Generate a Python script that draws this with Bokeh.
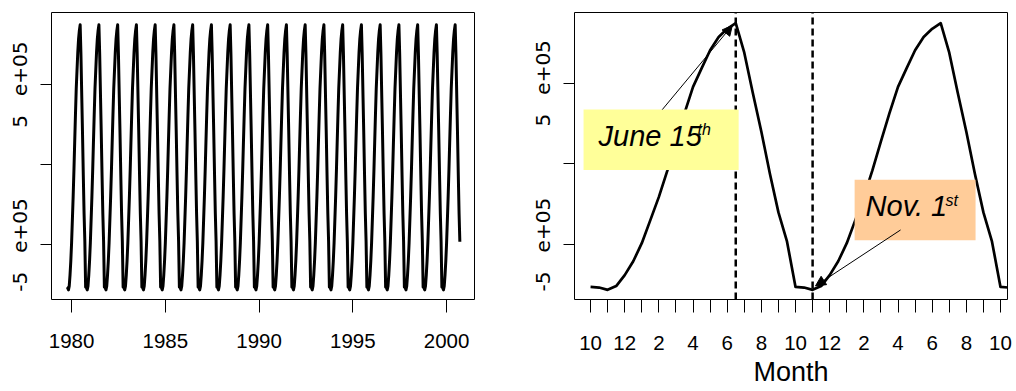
import numpy as np
from bokeh.plotting import figure
from bokeh.layouts import row
from bokeh.models import Range1d, FixedTicker, Arrow, NormalHead
from bokeh.core.properties import value
from bokeh.embed import file_html
from bokeh.resources import INLINE

# ---- data -------------------------------------------------------------
# half-monthly annual cycle, starting on October 1st (months since Oct 1)
cycle_months = [0.0, 0.5, 1.0, 1.5, 2.0, 2.5, 3.0, 3.5, 4.0, 4.5, 5.0, 5.5,
                6.0, 6.5, 7.0, 7.5, 8.0, 8.5, 9.0, 9.5, 10.0, 10.5, 11.0, 11.5]
cycle_values = [-762000, -766000, -780000, -757000, -689000, -603000,
                -491000, -348000, -204000, -40000, 140000, 315000,
                478000, 593000, 705000, 787000, 838000, 873000,
                690000, 440000, 200000, -60000, -300000, -480000]

left_start_year = 1979.75          # October 1979
left_n_years = 21
year_ticks = [1980, 1985, 1990, 1995, 2000]

value_ticks = [-500000, 0, 500000]
value_tick_labels = ["-5\u00a0\u00a0\u00a0e+05", "", "5\u00a0\u00a0\u00a0e+05"]

month_ticks = list(range(25))
month_tick_labels = ["10", "", "12", "", "2", "", "4", "", "6", "", "8", "",
                     "10", "", "12", "", "2", "", "4", "", "6", "", "8", "", "10"]

june_mark = 8.5     # June 15th
nov_mark = 13.0     # Nov. 1st

# long series: the annual cycle, year after year
left_t = left_start_year + np.arange(24 * left_n_years) / 24.0
left_v = np.tile(cycle_values, left_n_years)

# two repeated years on the month axis
right_m = np.concatenate([np.array(cycle_months), np.array(cycle_months) + 12,
                          np.array(cycle_months[:2]) + 24])
right_v = np.concatenate([cycle_values, cycle_values, cycle_values[:2]])

FONT = "Liberation Sans"
YFONT = "DejaVu Sans"


def style(p, tick_out_x, standoff_x):
    p.grid.visible = False
    p.outline_line_color = "black"
    p.outline_line_width = 1
    p.background_fill_color = "white"
    p.border_fill_color = "white"
    xa = p.xaxis[0]
    xa.axis_line_color = None
    xa.major_tick_in = 0
    xa.major_tick_out = tick_out_x
    xa.major_tick_line_color = "black"
    xa.major_tick_line_width = 1
    xa.minor_tick_line_color = None
    xa.major_label_text_font = FONT
    xa.major_label_text_font_size = "20.5px"
    xa.major_label_text_color = "black"
    xa.major_label_standoff = standoff_x
    ya = p.yaxis[0]
    ya.axis_line_color = None
    ya.major_tick_in = 0
    ya.major_tick_out = 11
    ya.major_tick_line_color = "black"
    ya.minor_tick_line_color = None
    ya.ticker = FixedTicker(ticks=value_ticks)
    ya.major_label_overrides = {t: l for t, l in zip(value_ticks, value_tick_labels)}
    ya.major_label_orientation = "vertical"
    ya.major_label_text_font = YFONT
    ya.major_label_text_font_size = "20px"
    ya.major_label_text_color = "black"
    ya.major_label_standoff = 8


# ---- left panel ------------------------------------------------------
p1 = figure(width=520, height=391, output_backend="svg", toolbar_location=None,
            x_range=Range1d(1978.93, 2001.49), y_range=Range1d(-840000, 950000),
            min_border_left=51, min_border_right=46, min_border_top=9,
            min_border_bottom=92)
style(p1, 13, 21)
p1.xaxis[0].ticker = FixedTicker(ticks=year_ticks)
p1.line(left_t, left_v, line_width=3, line_color="black", line_join="round")

# ---- right panel -----------------------------------------------------
y_lo, y_hi = -840000, 939000
x_lo, x_hi = -0.94, 24.41
p2 = figure(width=496, height=391, output_backend="svg", toolbar_location=None,
            x_range=Range1d(x_lo, x_hi), y_range=Range1d(y_lo, y_hi),
            min_border_left=54, min_border_right=9, min_border_top=12,
            min_border_bottom=89)
style(p2, 13, 23)
xa2 = p2.xaxis[0]
xa2.ticker = FixedTicker(ticks=month_ticks)
xa2.major_label_overrides = {t: l for t, l in zip(month_ticks, month_tick_labels)}
xa2.axis_label = "Month"
xa2.axis_label_text_font = FONT
xa2.axis_label_text_font_size = "27px"
xa2.axis_label_text_font_style = "normal"
xa2.axis_label_text_color = "black"
xa2.axis_label_text_line_height = 0.8
xa2.axis_label_standoff = 4

p2.line(right_m, right_v, line_width=2.7, line_color="black", line_join="round")
p2.segment(x0=[june_mark, nov_mark], y0=[y_lo, y_lo], x1=[june_mark, nov_mark],
           y1=[y_hi, y_hi], line_color="black", line_width=2.5, line_dash="7 4")

# annotation boxes
p2.quad(left=[-0.41], right=[8.67], top=[337000], bottom=[-37000],
        fill_color="#FFFF99", line_color=None)
p2.quad(left=[15.46], right=[22.54], top=[-98000], bottom=[-472000],
        fill_color="#FFCC99", line_color=None)

p2.add_layout(Arrow(x_start=4.20, y_start=337000, x_end=8.30, y_end=859000,
                    line_width=1, line_color="black",
                    end=NormalHead(size=10, fill_color="black", line_color="black")))
p2.add_layout(Arrow(x_start=18.15, y_start=-409000, x_end=13.17, y_end=-756000,
                    line_width=1, line_color="black",
                    end=NormalHead(size=10, fill_color="black", line_color="black")))

p2.text(x=[0.47, 16.10], y=[173000, -262000], text=["June 15", "Nov. 1"],
        text_font=value(FONT), text_font_style="italic", text_font_size="29px",
        text_baseline="alphabetic", text_align="left", text_color="black")
p2.text(x=[6.26, 20.78], y=[211000, -227000], text=["th", "st"],
        text_font=value(FONT), text_font_style="italic", text_font_size="16px",
        text_baseline="alphabetic", text_align="left", text_color="black")

layout = row(p1, p2)
open("out.html", "w").write(file_html(layout, INLINE))
